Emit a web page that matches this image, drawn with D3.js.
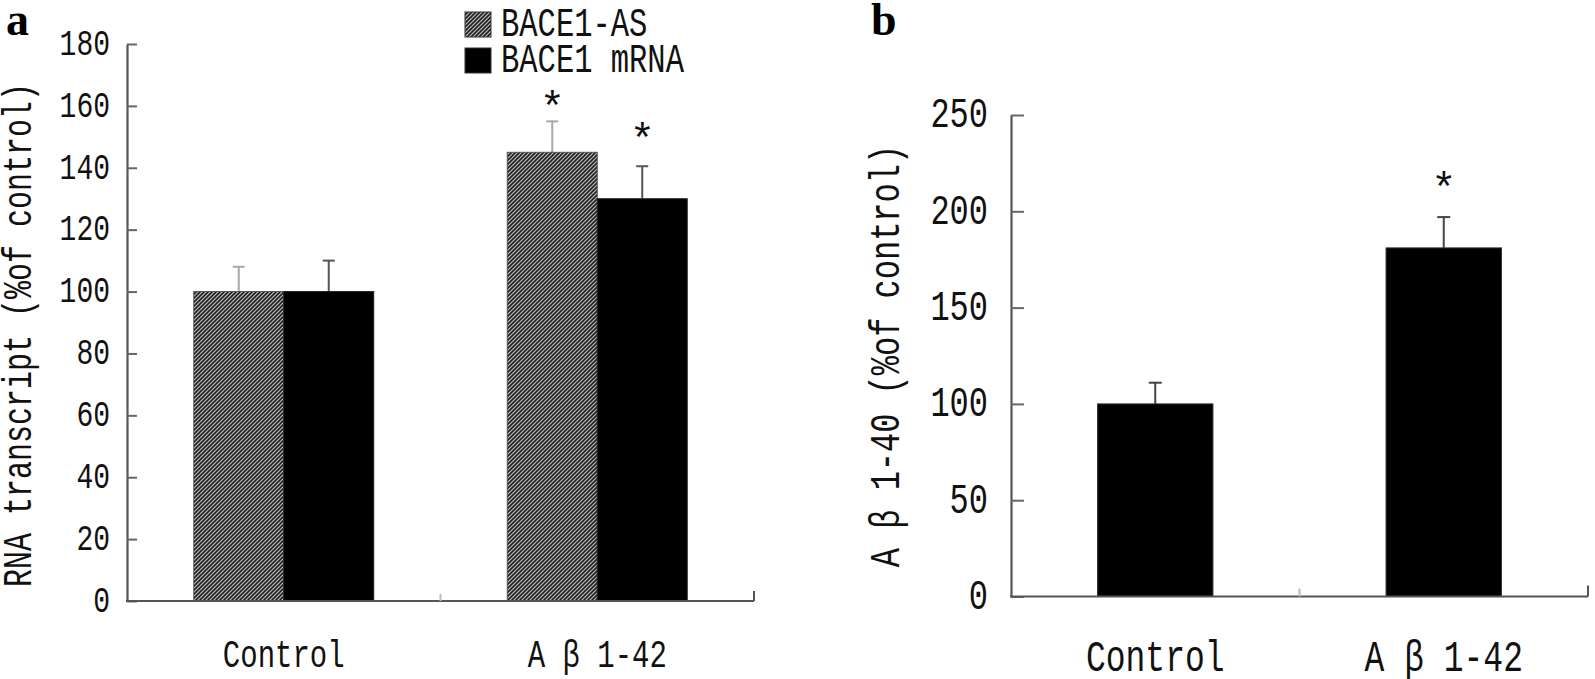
<!DOCTYPE html>
<html>
<head>
<meta charset="utf-8">
<script src="https://cdn.jsdelivr.net/npm/d3@7"></script>
<style>
  html, body { margin: 0; padding: 0; background: #fff; }
  svg { display: block; }
  .lbl { font-family: "Liberation Mono", "DejaVu Sans Mono", monospace; fill: #111; }
</style>
</head>
<body>
<div id="chart"></div>
<script>
// ---------- données ----------
// panneau a
const groupsA = ["Control", "A β 1-42"];
const seriesA = ["BACE1-AS", "BACE1 mRNA"];
const asMeans = [100, 145];
const asErr = [8, 10];
const mrnaMeans = [100, 130];
const mrnaErr = [10, 10.5];
const sigA = [false, false, true, true]; // control AS, control mRNA, Ab AS, Ab mRNA
const ticksA = [0, 20, 40, 60, 80, 100, 120, 140, 160, 180];

// panneau b
const groupsB = ["Control", "A β 1-42"];
const abMeans = [100, 181];
const abErr = [11, 16];
const sigB = [false, true];
const ticksB = [0, 50, 100, 150, 200, 250];

const W = 1595, H = 679;
const stretch = 1.35; // police étroite et haute (style SimSun)

const svg = d3.select("#chart").append("svg")
  .attr("width", W).attr("height", H);

// motif hachuré
const defs = svg.append("defs");
const pat = defs.append("pattern")
  .attr("id", "hatch")
  .attr("patternUnits", "userSpaceOnUse")
  .attr("width", 4).attr("height", 4);
pat.append("rect").attr("width", 4).attr("height", 4).attr("fill", "#bdbdbd");
pat.append("path")
  .attr("d", "M-1,1 l2,-2 M0,4 l4,-4 M3,5 l2,-2")
  .attr("stroke", "#1e1e1e").attr("stroke-width", 1.6);

function stretchedText(g, x, y, txt, size, anchor) {
  return g.append("text").attr("class", "lbl")
    .attr("transform", `translate(${x},${y}) scale(1,${stretch})`)
    .attr("text-anchor", anchor || "middle")
    .style("font-size", size + "px")
    .text(txt);
}

// astérisque de significativité (non étiré)
function star(g, x, y) {
  g.append("text").attr("class", "lbl")
    .attr("x", x).attr("y", y)
    .attr("text-anchor", "middle")
    .style("font-size", "42px")
    .attr("fill", "#333")
    .text("*");
}

function yAxis(g, y, x0, ticks, tickLen, pad, size) {
  const ax = g.append("g")
    .attr("transform", `translate(${x0},0)`)
    .call(d3.axisLeft(y).tickValues(ticks).tickSize(-tickLen).tickSizeOuter(0).tickPadding(pad).tickFormat(d3.format("d")));
  ax.select(".domain").attr("stroke", "#555").attr("stroke-width", 2.2);
  ax.selectAll(".tick line").attr("stroke", "#666").attr("stroke-width", 2);
  ax.selectAll(".tick text")
    .attr("class", "lbl")
    .attr("dy", null)
    .attr("dominant-baseline", "central")
    .attr("transform", `scale(1,${stretch})`)
    .style("font-size", size + "px")
    .attr("fill", "#111");
  return ax;
}

function xAxisLine(g, x, y0, tickUp) {
  const [a, b] = x.range();
  g.append("line").attr("x1", a - 1).attr("x2", b).attr("y1", y0).attr("y2", y0)
    .attr("stroke", "#555").attr("stroke-width", 2.2);
  g.selectAll(".sep").data(x.domain()).enter().append("line")
    .attr("x1", d => x(d) + x.bandwidth()).attr("x2", d => x(d) + x.bandwidth())
    .attr("y1", y0).attr("y2", (d, i) => y0 - (i === x.domain().length - 1 ? tickUp : tickUp - 3))
    .attr("stroke", (d, i) => i === x.domain().length - 1 ? "#555" : "#bbb")
    .attr("stroke-width", 2);
}

function errorBar(g, cx, yTop, yBar, cap, color) {
  g.append("line").attr("x1", cx).attr("x2", cx).attr("y1", yBar).attr("y2", yTop)
    .attr("stroke", color).attr("stroke-width", 2);
  g.append("line").attr("x1", cx - cap / 2).attr("x2", cx + cap / 2).attr("y1", yTop).attr("y2", yTop)
    .attr("stroke", color).attr("stroke-width", 2);
}

// ================= panneau a =================
const ga = svg.append("g");
const yA = d3.scaleLinear().domain([0, 180]).range([601, 44]);
const xA = d3.scaleBand().domain(groupsA).range([127, 754]).padding(0);
const xA1 = d3.scaleBand().domain(seriesA).range([0, xA.bandwidth()]).paddingInner(0).paddingOuter(0.742);

const rowsA = [];
groupsA.forEach((g, i) => {
  rowsA.push({ group: g, serie: seriesA[0], mean: asMeans[i], err: asErr[i], sig: sigA[i * 2] });
  rowsA.push({ group: g, serie: seriesA[1], mean: mrnaMeans[i], err: mrnaErr[i], sig: sigA[i * 2 + 1] });
});

rowsA.forEach(d => {
  const x0 = xA(d.group) + xA1(d.serie);
  const cx = x0 + xA1.bandwidth() / 2;
  const hatched = d.serie === seriesA[0];
  errorBar(ga, cx, yA(d.mean + d.err), yA(d.mean), 12, hatched ? "#a8a8a8" : "#555");
  ga.append("rect")
    .attr("x", x0).attr("y", yA(d.mean))
    .attr("width", xA1.bandwidth()).attr("height", yA(0) - yA(d.mean))
    .attr("fill", hatched ? "url(#hatch)" : "#000")
    .attr("stroke", hatched ? "#555" : "#222").attr("stroke-width", 1);
  if (d.sig) star(ga, cx, yA(d.mean + d.err) - (hatched ? 0 : 13));
});

yAxis(ga, yA, 127, ticksA, 10, 17, 28);
xAxisLine(ga, xA, yA(0), 10);

groupsA.forEach(g => stretchedText(ga, xA(g) + xA.bandwidth() / 2, 667, g, 29));

ga.append("text").attr("class", "lbl")
  .attr("transform", `translate(20,335) rotate(-90) scale(1,${stretch})`)
  .attr("text-anchor", "middle").attr("dominant-baseline", "central")
  .style("font-size", "30px")
  .text("RNA transcript (%of control)");

// légende
const leg = ga.append("g");
seriesA.forEach((s, i) => {
  leg.append("rect")
    .attr("x", 465).attr("y", 12 + i * 36).attr("width", 26).attr("height", 25)
    .attr("fill", i === 0 ? "url(#hatch)" : "#000")
    .attr("stroke", "#333").attr("stroke-width", 1);
  stretchedText(leg, 501, 36 + i * 36, s, 30.5, "start");
});

svg.append("text").attr("x", 6).attr("y", 35)
  .style("font-family", "Liberation Serif, serif").style("font-weight", "bold")
  .style("font-size", "46px").text("a");

// ================= panneau b =================
const gb = svg.append("g");
const yB = d3.scaleLinear().domain([0, 250]).range([596.5, 115]);
const xB = d3.scaleBand().domain(groupsB).range([1011, 1588]).padding(0);
const barW = xB.bandwidth() * 0.4;

groupsB.forEach((g, i) => {
  const cx = xB(g) + xB.bandwidth() / 2;
  errorBar(gb, cx, yB(abMeans[i] + abErr[i]), yB(abMeans[i]), 13, "#444");
  gb.append("rect")
    .attr("x", cx - barW / 2).attr("y", yB(abMeans[i]))
    .attr("width", barW).attr("height", yB(0) - yB(abMeans[i]))
    .attr("fill", "#000").attr("stroke", "#333").attr("stroke-width", 1);
  if (sigB[i]) star(gb, cx, yB(abMeans[i] + abErr[i]) - 15);
});

yAxis(gb, yB, 1011, ticksB, 13, 23, 32);
xAxisLine(gb, xB, yB(0), 11);

groupsB.forEach(g => stretchedText(gb, xB(g) + xB.bandwidth() / 2, 671, g, 33));

gb.append("text").attr("class", "lbl")
  .attr("transform", `translate(887,356) rotate(-90) scale(1,${stretch})`)
  .attr("text-anchor", "middle").attr("dominant-baseline", "central")
  .style("font-size", "32px")
  .text("A β 1-40 (%of control)");

svg.append("text").attr("x", 871).attr("y", 35)
  .style("font-family", "Liberation Serif, serif").style("font-weight", "bold")
  .style("font-size", "46px").text("b");
</script>
</body>
</html>
